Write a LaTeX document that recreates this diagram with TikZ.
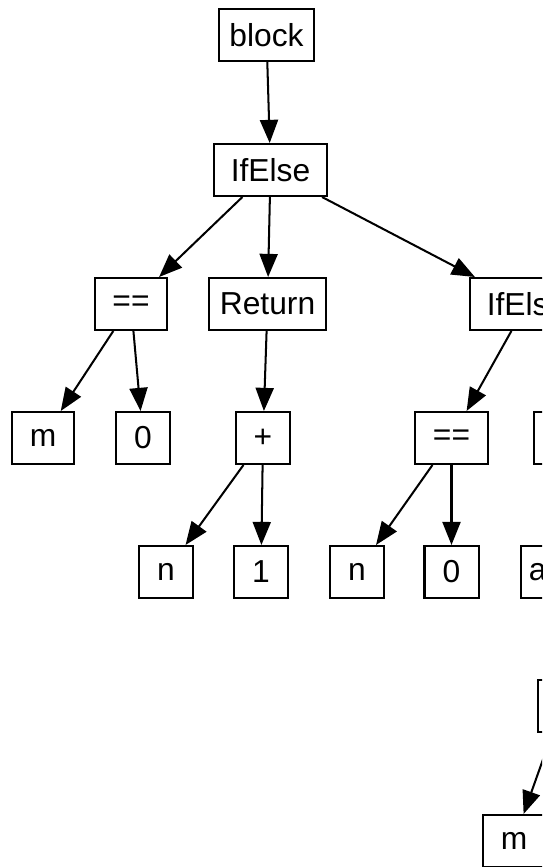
\documentclass[tikz,border=0pt]{standalone}
\usepackage{fontspec}
\setmainfont{Liberation Sans}
\usetikzlibrary{arrows.meta}
\begin{document}
\begin{tikzpicture}[x=0.6923pt,y=-0.6923pt,
  box/.style={draw=black,line width=1.4pt,minimum height=36pt,inner sep=0pt,
    font=\fontsize{22}{26}\selectfont},
  edge/.style={line width=1.4pt,-{Triangle[length=16pt,width=12.5pt]}}]
\useasboundingbox (0,0) rectangle (542,867);
\clip (0,0) rectangle (542,867);
% syntax tree nodes
\node[box,minimum width=65.8pt] (block) at (266.5,35) {block};
\node[box,minimum width=78.2pt] (ifelse) at (270.5,170) {IfElse};
\node[box,minimum width=49.8pt] (eqA) at (131,304) {==};
\node[box,minimum width=81pt] (ret) at (267.5,304) {Return};
\node[box,minimum width=78.2pt] (ifelseB) at (526.5,304) {IfElse};
\node[box,minimum width=42.9pt] (mA) at (43,438) {m};
\node[box,minimum width=37.4pt] (zA) at (143,438) {0};
\node[box,minimum width=37.4pt] (plus) at (263,438) {+};
\node[box,minimum width=50.5pt] (eqB) at (451.5,438) {==};
\node[box,minimum width=81pt] (retB) at (592.5,438) {};
\node[box,minimum width=37.4pt] (nA) at (166,572) {n};
\node[box,minimum width=37.4pt] (one) at (261,572) {1};
\node[box,minimum width=37.4pt] (nB) at (357,572) {n};
\node[box,minimum width=37.4pt] (zB) at (451.5,572) {0};
\node[box,anchor=west,text width=33.2pt,align=left,inner xsep=5.5pt] (call) at (520,572) {a};
\node[box,minimum width=33.2pt] (sub) at (562,706) {};
\node[box,minimum width=42.9pt] (mB) at (514,841) {m};
% connectors
\draw[edge] (block) -- (ifelse);
\draw[edge] (ifelse) -- (eqA);
\draw[edge] (ifelse) -- (ret);
\draw[edge] (ifelse) -- (ifelseB);
\draw[edge] (eqA) -- (mA);
\draw[edge] (eqA) -- (zA);
\draw[edge] (ret) -- (plus);
\draw[edge] (plus) -- (nA);
\draw[edge] (plus) -- (one);
\draw[edge] (ifelseB) -- (eqB);
\draw[edge] (eqB) -- (nB);
\draw[edge] (eqB) -- (zB);
\draw[edge] (sub) -- (mB);
\end{tikzpicture}
\end{document}
